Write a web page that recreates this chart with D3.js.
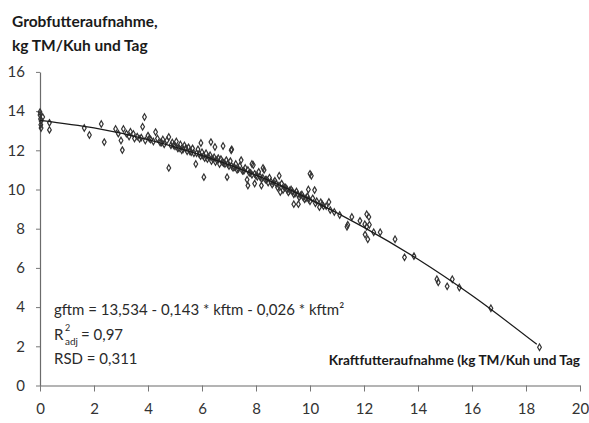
<!DOCTYPE html>
<html>
<head>
<meta charset="utf-8">
<script src="https://cdn.jsdelivr.net/npm/d3@7"></script>
<style>
  body { margin: 0; background: #fff; }
  svg { font-family: Lato, "Open Sans", sans-serif; }
</style>
</head>
<body>
<div id="chart"></div>
<script>
var width = 589, height = 423;

// axis ticks
var xTicks = [0, 2, 4, 6, 8, 10, 12, 14, 16, 18, 20];
var yTicks = [0, 2, 4, 6, 8, 10, 12, 14, 16];

// observed points: Kraftfutteraufnahme (kftm) and Grobfutteraufnahme (gftm)
var kftm = [0.0, 0.0, 0.02, 0.04, 0.03, 0.04, 0.1, 0.35, 0.35, 1.64, 1.83, 2.27, 2.38, 2.8, 2.9, 3.05, 3.09, 3.0, 3.2, 3.35,
  3.46, 3.5, 3.6, 3.69, 3.8, 3.87, 3.9, 4.0, 4.1, 4.2, 4.28, 4.35, 4.45, 4.55, 4.6, 4.7, 4.77, 4.77, 4.85, 4.9,
  5.0, 5.05, 5.15, 5.2, 5.3, 5.35, 5.45, 5.5, 5.6, 5.65, 5.77, 5.8, 5.85, 5.96, 5.95, 6.0, 6.07, 6.1, 6.15, 6.2,
  6.3, 6.33, 6.35, 6.45, 6.48, 6.5, 6.6, 6.65, 6.7, 6.78, 6.8, 6.9, 6.93, 7.0, 7.05, 7.08, 7.15, 7.25, 7.3, 7.4,
  7.45, 7.5, 7.6, 7.67, 7.7, 7.7, 7.8, 7.9, 7.95, 7.95, 8.05, 8.1, 8.2, 8.2, 8.3, 8.35, 8.45, 8.5, 8.6, 8.7,
  8.8, 8.86, 8.9, 8.95, 9.0, 9.1, 9.2, 9.3, 9.4, 9.4, 9.5, 9.57, 9.6, 9.7, 9.8, 9.9, 9.94, 10.0, 10.05, 10.1,
  10.17, 10.2, 10.35, 10.4, 10.5, 10.7, 10.75, 10.9, 11.1, 11.4, 11.55, 11.85, 12.03, 12.1, 12.14, 12.18, 12.2, 12.36, 12.6, 13.15,
  13.5, 13.85, 14.7, 14.75, 15.08, 15.27, 15.53, 16.7, 18.5,
  5.1, 5.25, 5.4, 5.55, 5.7, 5.9, 6.05, 6.25, 6.4, 6.55, 6.75, 6.85, 6.95, 7.1, 7.2, 7.35, 7.55, 7.75, 7.85, 8.0,
  8.15, 8.25, 8.4, 8.55, 8.65, 8.75, 8.85, 9.05, 9.15, 9.25, 9.35, 9.45, 9.55, 9.65, 9.75, 9.85, 9.95, 10.25, 10.45, 10.6,
  3.3, 3.75, 4.05, 4.5, 4.95, 7.1, 7.85, 8.26, 10.0, 11.37, 12.1, 12.04];
var gftm = [13.95, 13.8, 13.6, 13.5, 13.3, 13.14, 13.7, 13.4, 13.04, 13.14, 12.78, 13.34, 12.42, 13.09, 12.85, 12.01, 13.09, 12.5, 12.85, 12.95,
  12.83, 12.6, 12.7, 12.58, 13.2, 13.7, 12.5, 12.75, 12.55, 12.45, 12.93, 12.6, 12.4, 12.55, 12.3, 12.5, 12.68, 11.1, 12.25, 12.4,
  12.2, 12.45, 12.1, 12.3, 12.05, 12.25, 11.95, 12.15, 11.9, 12.1, 11.3, 11.85, 12.05, 12.37, 11.7, 11.9, 10.63, 11.6, 11.85, 11.55,
  11.75, 12.42, 11.45, 11.65, 12.17, 11.4, 11.6, 11.3, 11.55, 12.22, 11.35, 11.5, 10.63, 11.2, 11.45, 12.0, 11.1, 11.3, 11.0, 11.2,
  11.5, 10.95, 11.1, 10.5, 10.2, 11.0, 10.85, 11.25, 10.3, 10.8, 10.65, 10.9, 10.2, 10.55, 11.0, 10.5, 10.35, 10.6, 10.25, 10.45,
  10.1, 10.7, 9.87, 10.3, 9.97, 10.1, 9.85, 10.0, 9.25, 9.75, 9.9, 9.25, 9.6, 9.75, 9.5, 9.65, 10.0, 9.4, 10.7, 9.55,
  9.97, 9.3, 9.1, 9.35, 9.15, 9.36, 8.95, 8.85, 8.7, 8.2, 8.6, 8.4, 8.23, 8.74, 7.46, 8.6, 8.2, 7.82, 7.82, 7.46,
  6.54, 6.6, 5.42, 5.27, 5.06, 5.42, 5.0, 3.94, 1.95,
  12.1, 12.0, 12.1, 11.95, 11.85, 11.8, 11.7, 11.65, 11.55, 11.5, 11.4, 11.3, 11.3, 11.2, 11.15, 11.05, 10.95, 10.85, 10.75, 10.7,
  10.65, 10.6, 10.5, 10.4, 10.35, 10.3, 10.2, 10.1, 10.0, 9.95, 9.9, 9.8, 9.75, 9.7, 9.6, 9.55, 9.5, 9.4, 9.25, 9.15,
  12.7, 12.65, 12.6, 12.4, 12.25, 12.05, 11.3, 11.1, 10.8, 8.1, 8.1, 7.7];

// fitted curve
var fitX = [0, 2, 4, 6, 8, 10, 12, 14, 16, 18.4];
var fitY = [13.53, 13.14, 12.55, 11.74, 10.73, 9.50, 8.07, 6.44, 4.59, 2.10];

var svg = d3.select("#chart").append("svg")
  .attr("width", width)
  .attr("height", height);

var x = d3.scaleLinear().domain([0, 20]).range([40, 580]);
var y = d3.scaleLinear().domain([0, 16]).range([385.5, 71.9]);

// y axis
var yAxis = svg.append("g")
  .attr("transform", "translate(40,0)")
  .call(d3.axisLeft(y).tickValues(yTicks).tickSize(4).tickSizeOuter(0).tickPadding(11).tickFormat(d3.format("d")));

// x axis
var xAxis = svg.append("g")
  .attr("transform", "translate(0," + y(0) + ")")
  .call(d3.axisBottom(x).tickValues(xTicks).tickSize(6).tickSizeOuter(0).tickPadding(12).tickFormat(d3.format("d")));

[yAxis, xAxis].forEach(function(a) {
  a.select(".domain").attr("stroke", "#6b6b6b").attr("stroke-width", 1.2);
  a.selectAll(".tick line").attr("stroke", "#777");
  a.selectAll(".tick text")
    .attr("fill", "#333")
    .style("font-size", "15px")
    .style("font-family", "Lato, sans-serif");
});

// points
var pts = kftm.map(function(v, i) { return {k: v, g: gftm[i]}; });
svg.append("g").selectAll("path")
  .data(pts)
  .enter().append("path")
    .attr("transform", function(d) { return "translate(" + x(d.k) + "," + y(d.g) + ")"; })
    .attr("d", d3.symbol().type(d3.symbolDiamond).size(12))
    .attr("fill", "none")
    .attr("stroke", "#333")
    .attr("stroke-width", 1.2);

// regression line
var fit = fitX.map(function(v, i) { return {k: v, g: fitY[i]}; });
svg.append("path")
  .datum(fit)
  .attr("fill", "none")
  .attr("stroke", "#1a1a1a")
  .attr("stroke-width", 1.3)
  .attr("d", d3.line()
    .curve(d3.curveMonotoneX)
    .x(function(d) { return x(d.k); })
    .y(function(d) { return y(d.g); }));

// y title
var title = svg.append("text")
  .attr("fill", "#1a1a1a")
  .style("font-size", "15.5px")
  .style("font-weight", "bold");
title.append("tspan").attr("x", 12).attr("y", 27).text("Grobfutteraufnahme,");
title.append("tspan").attr("x", 12).attr("y", 51).text("kg TM/Kuh und Tag");

// equation block
var eq = svg.append("g")
  .attr("fill", "#2a2a2a")
  .style("font-size", "15px");
eq.append("text").attr("x", 54).attr("y", 315)
  .text("gftm = 13,534 - 0,143 * kftm - 0,026 * kftm²");
// R² adj: superscript and subscript as separate texts so they stack
eq.append("text").attr("x", 54).attr("y", 340).text("R");
eq.append("text").attr("x", 65).attr("y", 331).style("font-size", "9px").text("2");
eq.append("text").attr("x", 65).attr("y", 345).style("font-size", "10px").text("adj");
eq.append("text").attr("x", 81).attr("y", 340).text("= 0,97");
eq.append("text").attr("x", 54).attr("y", 364).text("RSD = 0,311");

// x title
svg.append("text")
  .attr("x", 580)
  .attr("y", 365)
  .attr("text-anchor", "end")
  .attr("fill", "#1a1a1a")
  .style("font-size", "13.6px")
  .style("font-weight", "bold")
  .text("Kraftfutteraufnahme (kg TM/Kuh und Tag");
</script>
</body>
</html>
